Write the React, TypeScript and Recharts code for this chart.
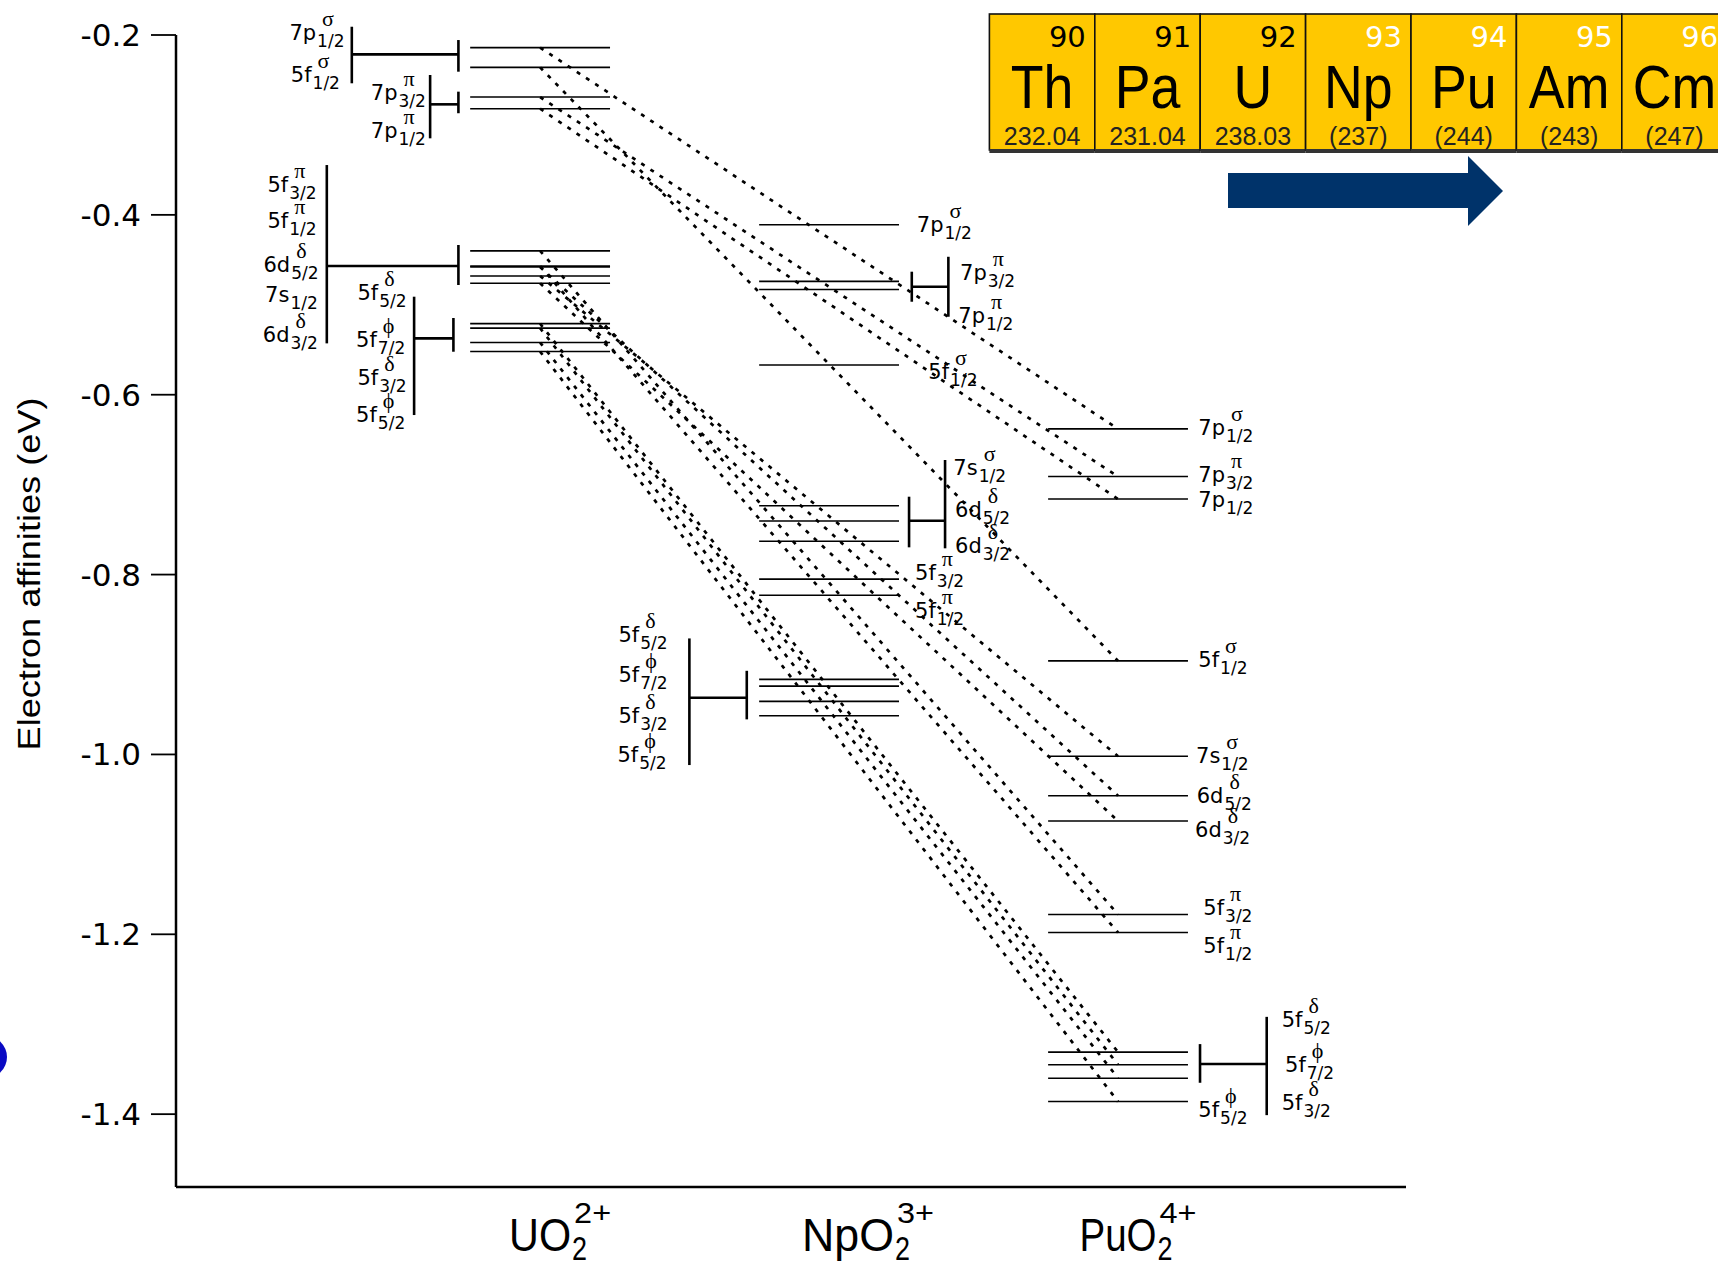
import { ComposedChart, Line, Scatter, XAxis, YAxis } from "recharts";

// species on the x axis (numeric positions 1, 2, 3)
const SPECIES = ["UO", "NpO", "PuO"];
const SPECIES_CHARGE = ["2+", "3+", "4+"];
const SPECIES_POS = [1, 2, 3];

// orbitals, same order in every level array below
const ORBITALS = [
	"7p σ 1/2",
	"5f σ 1/2",
	"7p π 3/2",
	"7p π 1/2",
	"5f π 3/2",
	"5f π 1/2",
	"6d δ 5/2",
	"7s σ 1/2",
	"6d δ 3/2",
	"5f δ 5/2",
	"5f ϕ 7/2",
	"5f δ 3/2",
	"5f ϕ 5/2",
];

// electron affinities (eV)
const UO2_LEVELS = [
	-0.214, -0.236, -0.269, -0.282, -0.44, -0.457, -0.458, -0.468, -0.476,
	-0.521, -0.526, -0.542, -0.552,
];
const NPO2_LEVELS = [
	-0.411, -0.567, -0.474, -0.483, -0.805, -0.823, -0.7405, -0.7235, -0.763,
	-0.9165, -0.924, -0.941, -0.957,
];
const PUO2_LEVELS = [
	-0.638, -0.896, -0.691, -0.716, -1.178, -1.198, -1.046, -1.002, -1.074,
	-1.331, -1.345, -1.36, -1.386,
];
const LEVELS = [UO2_LEVELS, NPO2_LEVELS, PUO2_LEVELS];

const Y_TICKS = [-1.4, -1.2, -1.0, -0.8, -0.6, -0.4, -0.2];

// orbital labels: anchor (x, energy), main text, subscript, superscript
const LABELS = [
	{ x: 0.1325, y: -0.2056, main: "7p", sub: "1/2", sup: "σ" },
	{ x: 0.1374, y: -0.2519, main: "5f", sub: "1/2", sup: "σ" },
	{ x: 0.4142, y: -0.2723, main: "7p", sub: "3/2", sup: "π" },
	{ x: 0.4142, y: -0.3149, main: "7p", sub: "1/2", sup: "π" },
	{ x: 0.0564, y: -0.3743, main: "5f", sub: "3/2", sup: "π" },
	{ x: 0.0564, y: -0.415, main: "5f", sub: "1/2", sup: "π" },
	{ x: 0.0426, y: -0.4632, main: "6d", sub: "5/2", sup: "δ" },
	{ x: 0.0484, y: -0.4966, main: "7s", sub: "1/2", sup: "" },
	{ x: 0.0405, y: -0.5411, main: "6d", sub: "3/2", sup: "δ" },
	{ x: 0.3678, y: -0.4947, main: "5f", sub: "5/2", sup: "δ" },
	{ x: 0.3633, y: -0.5466, main: "5f", sub: "7/2", sup: "ϕ" },
	{ x: 0.3678, y: -0.5892, main: "5f", sub: "3/2", sup: "δ" },
	{ x: 0.3633, y: -0.63, main: "5f", sub: "5/2", sup: "ϕ" },
	{ x: 2.3035, y: -0.4187, main: "7p", sub: "1/2", sup: "σ" },
	{ x: 2.4533, y: -0.4725, main: "7p", sub: "3/2", sup: "π" },
	{ x: 2.4474, y: -0.5206, main: "7p", sub: "1/2", sup: "π" },
	{ x: 2.3436, y: -0.5829, main: "5f", sub: "1/2", sup: "σ" },
	{ x: 2.4301, y: -0.6893, main: "7s", sub: "1/2", sup: "σ" },
	{ x: 2.436, y: -0.7357, main: "6d", sub: "5/2", sup: "δ" },
	{ x: 2.436, y: -0.7764, main: "6d", sub: "3/2", sup: "δ" },
	{ x: 2.2976, y: -0.8061, main: "5f", sub: "3/2", sup: "π" },
	{ x: 2.2976, y: -0.8487, main: "5f", sub: "1/2", sup: "π" },
	{ x: 1.2709, y: -0.8747, main: "5f", sub: "5/2", sup: "δ" },
	{ x: 1.2709, y: -0.9192, main: "5f", sub: "7/2", sup: "ϕ" },
	{ x: 1.2709, y: -0.9655, main: "5f", sub: "3/2", sup: "δ" },
	{ x: 1.2675, y: -1.0082, main: "5f", sub: "5/2", sup: "ϕ" },
	{ x: 3.2779, y: -0.6448, main: "7p", sub: "1/2", sup: "σ" },
	{ x: 3.2779, y: -0.6968, main: "7p", sub: "3/2", sup: "π" },
	{ x: 3.2779, y: -0.7246, main: "7p", sub: "1/2", sup: "" },
	{ x: 3.2779, y: -0.9025, main: "5f", sub: "1/2", sup: "σ" },
	{ x: 3.2699, y: -1.0099, main: "7s", sub: "1/2", sup: "σ" },
	{ x: 3.2723, y: -1.0544, main: "6d", sub: "5/2", sup: "δ" },
	{ x: 3.2664, y: -1.0916, main: "6d", sub: "3/2", sup: "δ" },
	{ x: 3.2952, y: -1.1787, main: "5f", sub: "3/2", sup: "π" },
	{ x: 3.2952, y: -1.2209, main: "5f", sub: "1/2", sup: "π" },
	{ x: 3.2779, y: -1.403, main: "5f", sub: "5/2", sup: "ϕ" },
	{ x: 3.5664, y: -1.3029, main: "5f", sub: "5/2", sup: "δ" },
	{ x: 3.5779, y: -1.3529, main: "5f", sub: "7/2", sup: "ϕ" },
	{ x: 3.5664, y: -1.3955, main: "5f", sub: "3/2", sup: "δ" },
];

// group brackets: long bar at x1, tick at x2, joined at energy y
const BRACKETS = [
	{ x1: 0.3484, x2: 0.7173, y: -0.2215, bar: [-0.1908, -0.2537], tick: [-0.2056, -0.2408] },
	{ x1: 0.6194, x2: 0.7173, y: -0.2771, bar: [-0.2445, -0.3149], tick: [-0.263, -0.287] },
	{ x1: 0.2619, x2: 0.7173, y: -0.4569, bar: [-0.3446, -0.5429], tick: [-0.4335, -0.478] },
	{ x1: 0.564, x2: 0.7, y: -0.5373, bar: [-0.491, -0.6226], tick: [-0.5147, -0.5522] },
	{ x1: 2.4128, x2: 2.2862, y: -0.4799, bar: [-0.4466, -0.5133], tick: [-0.4632, -0.4966] },
	{ x1: 2.4014, x2: 2.2768, y: -0.7401, bar: [-0.6726, -0.7708], tick: [-0.7134, -0.7697] },
	{ x1: 1.5166, x2: 1.7152, y: -0.937, bar: [-0.871, -1.0118], tick: [-0.907, -0.961] },
	{ x1: 3.5145, x2: 3.2837, y: -1.3443, bar: [-1.2918, -1.4011], tick: [-1.3221, -1.3651] },
];

// periodic table strip
const ELEMENT_Z = [90, 91, 92, 93, 94, 95, 96];
const ELEMENT_SYMBOL = ["Th", "Pa", "U", "Np", "Pu", "Am", "Cm"];
const ELEMENT_MASS = ["232.04", "231.04", "238.03", "(237)", "(244)", "(243)", "(247)"];

const HALF_WIDTH = 0.242;
const X_LABEL_WIDTH = [62, 92, 77];
const X_LABEL_NUDGE = [0, 19, 0];

const CHAR_W: Record<string, number> = {
	"5": 0.636,
	"6": 0.636,
	"7": 0.636,
	p: 0.635,
	f: 0.352,
	d: 0.635,
	s: 0.521,
};
const textWidth = (s: string, size: number) =>
	s.split("").reduce((acc, c) => acc + (CHAR_W[c] ?? 0.6), 0) * size;

const levelSegments = SPECIES_POS.flatMap((pos, s) =>
	LEVELS[s].map((e, i) => ({
		key: `lv-${s}-${i}`,
		data: [
			{ x: pos - HALF_WIDTH, y: e },
			{ x: pos + HALF_WIDTH, y: e },
		],
	})),
);

const connectors = ORBITALS.map((name, i) => ({
	key: `cn-${i}`,
	name,
	data: [
		{ x: SPECIES_POS[0], y: UO2_LEVELS[i] },
		{ x: SPECIES_POS[2], y: PUO2_LEVELS[i] },
	],
}));

const bracketSegments = BRACKETS.flatMap((b, i) => [
	{ key: `br-${i}-a`, data: [{ x: b.x1, y: b.bar[0] }, { x: b.x1, y: b.bar[1] }] },
	{ key: `br-${i}-b`, data: [{ x: b.x1, y: b.y }, { x: b.x2, y: b.y }] },
	{ key: `br-${i}-c`, data: [{ x: b.x2, y: b.tick[0] }, { x: b.x2, y: b.tick[1] }] },
]);

function OrbitalLabel(props: any) {
	const { cx, cy, payload } = props;
	if (cx == null || cy == null) return null;
	const subX = cx + textWidth(payload.main, 21) + 1;
	return (
		<g fill="#000">
			<text x={cx} y={cy} fontSize={21} fontFamily="DejaVu Sans">
				{payload.main}
			</text>
			<text x={subX} y={cy + 7} fontSize={17} fontFamily="DejaVu Sans">
				{payload.sub}
			</text>
			{payload.sup && (
				<text x={subX + 5} y={cy - 14} fontSize={22} fontFamily="Liberation Serif, DejaVu Serif">
					{payload.sup}
				</text>
			)}
		</g>
	);
}

function EnergyTick({ x, y, payload }: any) {
	return (
		<text x={x - 8} y={y + 11} textAnchor="end" fontSize={31} fontFamily="DejaVu Sans" fill="#000">
			{Number(payload.value).toFixed(1)}
		</text>
	);
}

function SpeciesTick({ x, y, payload }: any) {
	const i = SPECIES_POS.indexOf(payload.value);
	if (i < 0) return null;
	const w = X_LABEL_WIDTH[i];
	const cx = x + X_LABEL_NUDGE[i];
	const font = "Liberation Sans Narrow, Liberation Sans";
	return (
		<g fill="#000" fontFamily={font}>
			<text x={cx - w / 2} y={y + 64} fontSize={46} textLength={w} lengthAdjust="spacingAndGlyphs">
				{SPECIES[i]}
			</text>
			<text x={cx + w / 2 + 1} y={y + 73} fontSize={33} textLength={15} lengthAdjust="spacingAndGlyphs">
				2
			</text>
			<text x={cx + w / 2 + 3} y={y + 36} fontSize={30} textLength={37} lengthAdjust="spacingAndGlyphs">
				{SPECIES_CHARGE[i]}
			</text>
		</g>
	);
}

function PeriodicStrip() {
	const left = 989.4;
	const cw = 105.4;
	return (
		<g>
			{ELEMENT_Z.map((z, i) => {
				const x = left + i * cw;
				return (
					<g key={z}>
						<rect x={x} y={14} width={cw} height={136} fill="#FFC800" stroke="#111" strokeWidth={1.6} />
						<rect x={x} y={149} width={cw} height={4} fill="#333" />
						<text
							x={x + cw - 9}
							y={47}
							textAnchor="end"
							fontSize={29}
							fontFamily="DejaVu Sans"
							fill={i < 3 ? "#000" : "#fff"}
						>
							{z}
						</text>
						<text
							transform={`translate(${x + cw / 2},108) scale(0.88,1)`}
							textAnchor="middle"
							fontSize={61}
							fontFamily="Liberation Sans"
							fill="#000"
						>
							{ELEMENT_SYMBOL[i]}
						</text>
						<text x={x + cw / 2} y={145} textAnchor="middle" fontSize={25} fontFamily="Liberation Sans" fill="#222">
							{ELEMENT_MASS[i]}
						</text>
					</g>
				);
			})}
			<polygon
				points="1228,173 1468,173 1468,156 1503,191 1468,226 1468,208 1228,208"
				fill="#00336A"
			/>
		</g>
	);
}

export default function App() {
	return (
		<div style={{ position: "absolute", left: 0, top: 0, width: 1718, height: 1265, background: "#fff" }}>
			<style>{".recharts-surface [clip-path]{clip-path:none !important;}"}</style>
			<ComposedChart width={1718} height={1265} margin={{ top: 35, right: 312, bottom: 0, left: 0 }}>
				<XAxis
					type="number"
					dataKey="x"
					domain={[-0.26, 3.9965]}
					ticks={SPECIES_POS}
					interval={0}
					allowDataOverflow
					height={78}
					tickSize={0}
					tickMargin={0}
					tickLine={false}
					axisLine={{ stroke: "#000", strokeWidth: 2.5 }}
					tick={<SpeciesTick />}
				/>
				<YAxis
					type="number"
					dataKey="y"
					domain={[-1.481, -0.2]}
					ticks={Y_TICKS}
					allowDataOverflow
					width={176}
					tickSize={25}
					tickLine={{ stroke: "#000", strokeWidth: 1.8 }}
					axisLine={{ stroke: "#000", strokeWidth: 2.5 }}
					tick={<EnergyTick />}
				/>
				{connectors.map((c) => (
					<Line
						key={c.key}
						name={c.name}
						data={c.data}
						dataKey="y"
						stroke="#000"
						strokeWidth={2.7}
						strokeDasharray="4 7"
						dot={false}
						activeDot={false}
						isAnimationActive={false}
					/>
				))}
				{levelSegments.map((l) => (
					<Line
						key={l.key}
						data={l.data}
						dataKey="y"
						stroke="#000"
						strokeWidth={1.6}
						dot={false}
						activeDot={false}
						isAnimationActive={false}
					/>
				))}
				{bracketSegments.map((b) => (
					<Line
						key={b.key}
						data={b.data}
						dataKey="y"
						stroke="#000"
						strokeWidth={2.6}
						dot={false}
						activeDot={false}
						isAnimationActive={false}
					/>
				))}
				<Scatter data={LABELS} dataKey="y" shape={OrbitalLabel} isAnimationActive={false} />
			</ComposedChart>
			<svg
				width={1718}
				height={1265}
				style={{ position: "absolute", left: 0, top: 0, pointerEvents: "none" }}
			>
				<text
					transform="translate(40,574) rotate(-90)"
					textAnchor="middle"
					fontSize={31}
					fontFamily="Liberation Sans Narrow, Liberation Sans"
					textLength={353}
					lengthAdjust="spacingAndGlyphs"
					fill="#000"
				>
					Electron affinities (eV)
				</text>
				<circle cx={-14} cy={1057} r={21} fill="#0A0AC4" />
				<PeriodicStrip />
			</svg>
		</div>
	);
}
